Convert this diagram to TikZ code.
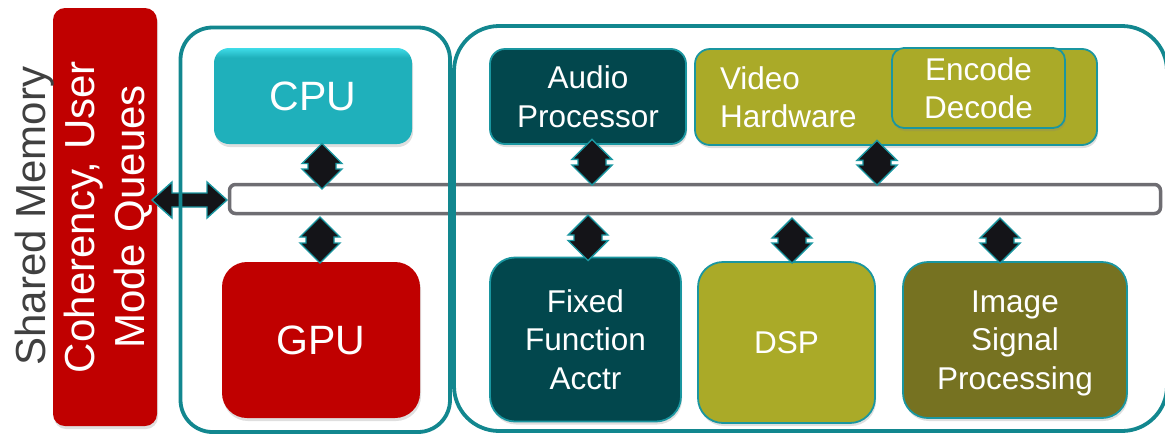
\documentclass[tikz,border=0pt]{standalone}
\usepackage{fontspec}
\setmainfont{Liberation Sans}
\usetikzlibrary{shadows,calc}

\definecolor{hsared}{HTML}{C00000}
\definecolor{frameteal}{HTML}{12878F}
\definecolor{edgeteal}{HTML}{1A96A0}
\definecolor{cpucyan}{HTML}{1FB0BB}
\definecolor{cpurim}{HTML}{3FDCE8}
\definecolor{deepteal}{HTML}{02474D}
\definecolor{olive}{HTML}{AAAA28}
\definecolor{darkolive}{HTML}{767221}
\definecolor{busgray}{HTML}{6E6D72}
\definecolor{arrowink}{HTML}{141418}
\definecolor{labelgray}{HTML}{404040}

% CPU face: flat cyan with a brighter rim along the top edge
\pgfdeclareverticalshading{cpushade}{100bp}{color(0bp)=(cpucyan); color(70bp)=(cpucyan); color(75bp)=(cpurim); color(100bp)=(cpurim)}

% vertical two-headed link: x taken from #1, tips at the heights of #2 (top) and #3 (bottom)
\newcommand\vlink[3]{%
  \filldraw[link] let \p1=(#1), \p2=(#2), \p3=(#3) in
    (\x1,\y2) -- (\x1+20pt,\y2-20pt) -- (\x1+14pt,\y2-20pt) -- (\x1+14pt,\y3+20pt)
    -- (\x1+20pt,\y3+20pt) -- (\x1,\y3) -- (\x1-20pt,\y3+20pt) -- (\x1-14pt,\y3+20pt)
    -- (\x1-14pt,\y2-20pt) -- (\x1-20pt,\y2-20pt) -- cycle;}

\begin{document}
\begin{tikzpicture}[x=1pt,y=-1pt,
  block/.style={rounded corners=#1, inner sep=0pt, outer sep=0pt, align=center,
    text=white, font=\fontsize{31.5}{38.5}\selectfont,
    drop shadow={shadow xshift=1pt, shadow yshift=-3pt, opacity=0.25}},
  block/.default=25pt,
  rimmed/.style={draw=edgeteal, line width=1.8pt},
  bigtext/.style={font=\fontsize{41}{49}\selectfont},
  sidetext/.style={rotate=90, inner sep=0pt, align=center, font=\fontsize{42}{50}\selectfont},
  frame/.style={draw=frameteal, line width=3.8pt},
  link/.style={fill=arrowink, draw=edgeteal, line width=1.4pt, line join=miter},
]
\useasboundingbox (0,0) rectangle (1165,437);
\clip (0,0) rectangle (1165,437);

% shared memory column
\node[block=12pt, fill=hsared, minimum width=104pt, minimum height=418pt] (coh) at (105,217) {};
\node[sidetext, text=white] (cohtext) at (108,217) {Coherency, User\\Mode Queues};
\node[sidetext, anchor=base, text=labelgray] (shm) at (45,216) {Shared Memory};

% interconnect bus
\node[draw=busgray, line width=3.5pt, fill=white, rounded corners=6pt, inner sep=0pt, outer sep=0pt,
      minimum width=931pt, minimum height=29pt] (bus) at (695,199) {};

% memory <-> bus link
\coordinate (memL) at ($(coh.east)+(-5,-17)$);
\coordinate (memR) at ($(bus.west)+(-2.5,1)$);
\filldraw[link] let \p1=(memL), \p2=(memR) in
  (\x1,\y1) -- (\x1+20pt,\y1+18pt) -- (\x1+20pt,\y1+7pt) -- (\x2-20pt,\y1+7pt)
  -- (\x2-20pt,\y1+18pt) -- (\x2,\y1) -- (\x2-20pt,\y1-18pt) -- (\x2-20pt,\y1-7pt)
  -- (\x1+20pt,\y1-7pt) -- (\x1+20pt,\y1-18pt) -- cycle;

% outer groupings
\draw[frame, rounded corners=32pt] (180.5,27.5) rectangle (450,432);
\draw[frame, rounded corners=45pt] (454,26) rectangle (1167,431);

% processors
\node[block=15pt, shading=cpushade, minimum width=198pt, minimum height=96pt, bigtext] (cpu) at (313,96) {CPU};
\node[block, fill=hsared, minimum width=198pt, minimum height=156pt, bigtext] (gpu) at (321,340) {GPU};

\node[block=15pt, rimmed, fill=deepteal, minimum width=196pt, minimum height=95pt] (audio) at (588,96.5) {Audio\\Processor};
\node[block=15pt, rimmed, fill=olive, minimum width=402pt, minimum height=96pt, text width=352pt, align=left] (video) at (896,97) {Video\\Hardware};
\node[block=12pt, rimmed, fill=olive, minimum width=173pt, minimum height=80pt] (codec) at (978.5,88) {Encode\\Decode};

\node[block, rimmed, fill=deepteal, minimum width=191pt, minimum height=164pt] (ffa) at (585.5,339.5) {Fixed\\Function\\Acctr};
\node[block, rimmed, fill=olive, minimum width=177pt, minimum height=161pt] (dsp) at (786.5,342.5) {DSP};
\node[block, rimmed, fill=darkolive, minimum width=224pt, minimum height=156pt, text depth=0pt] (isp) at (1015,340) {Image\\Signal\\Processing};

% bus links
\vlink{[xshift=9pt]cpu.south}{[yshift=0.5pt]cpu.south}{[yshift=-4.5pt]bus.north}
\vlink{[xshift=-1pt]gpu.north}{[yshift=-3.5pt]bus.south}{[yshift=-1pt]gpu.north}
\vlink{[xshift=4pt]audio.south}{[yshift=4.7pt]audio.south}{[yshift=-0.5pt]bus.north}
\vlink{[xshift=-19pt]video.south}{[yshift=4.7pt]video.south}{[yshift=-0.5pt]bus.north}
\vlink{[xshift=2.5pt]ffa.north}{[yshift=-1.5pt]bus.south}{[yshift=-3pt]ffa.north}
\vlink{[xshift=5.5pt]dsp.north}{[yshift=-4.5pt]bus.south}{[yshift=-1pt]dsp.north}
\vlink{[xshift=-15pt]isp.north}{[yshift=-4.5pt]bus.south}{[yshift=-1pt]isp.north}
\end{tikzpicture}
\end{document}
